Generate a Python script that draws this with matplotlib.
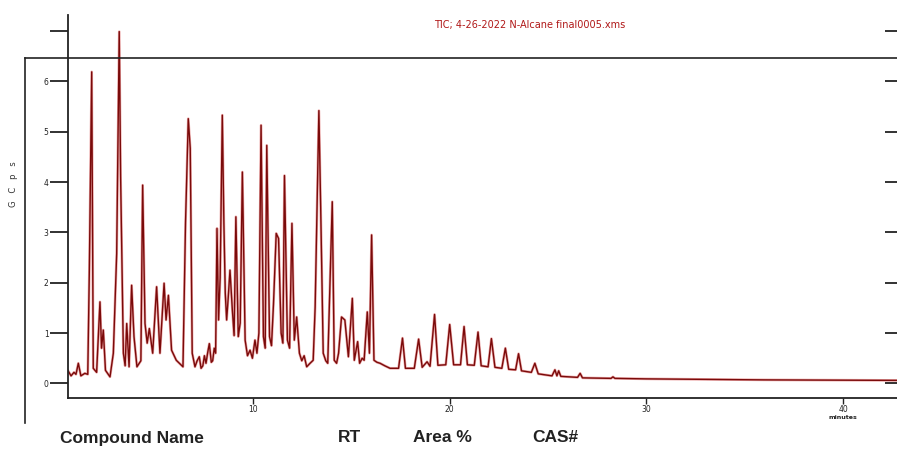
import matplotlib
matplotlib.use("Agg")
import matplotlib.pyplot as plt
from matplotlib.lines import Line2D

# ---- data (retention time in minutes, signal) ----
rt_min = [
    0.60, 0.75, 0.90, 1.00, 1.12, 1.25, 1.45, 1.60, 1.68, 1.80, 1.88, 2.05,
    2.22, 2.30, 2.39, 2.50, 2.73, 2.90, 3.07, 3.20, 3.27, 3.41, 3.50, 3.58,
    3.70, 3.83, 3.95, 4.10, 4.30, 4.39, 4.51, 4.62, 4.73, 4.90, 5.10, 5.27,
    5.48, 5.58, 5.70, 5.86, 6.10, 6.44, 6.57, 6.71, 6.81, 6.91, 7.05, 7.16,
    7.27, 7.36, 7.45, 7.53, 7.61, 7.70, 7.78, 7.88, 7.95, 8.03, 8.10, 8.17,
    8.25, 8.33, 8.44, 8.52, 8.59, 8.66, 8.74, 8.83, 8.95, 9.04, 9.13, 9.25,
    9.35, 9.46, 9.60, 9.72, 9.85, 9.97, 10.10, 10.20, 10.30, 10.41, 10.53,
    10.62, 10.70, 10.84, 10.94, 11.04, 11.18, 11.30, 11.43, 11.52, 11.60,
    11.75, 11.86, 11.98, 12.10, 12.22, 12.36, 12.48, 12.60, 12.73, 12.90,
    13.06, 13.16, 13.35, 13.44, 13.57, 13.70, 13.80, 14.03, 14.13, 14.25,
    14.35, 14.50, 14.67, 14.85, 15.05, 15.15, 15.32, 15.42, 15.55, 15.65,
    15.81, 15.92, 16.03, 16.15, 16.30, 16.46, 16.70, 16.97, 17.40, 17.60,
    17.75, 18.20, 18.42, 18.60, 18.85, 19.00, 19.23, 19.40, 19.80, 20.00,
    20.20, 20.55, 20.73, 20.90, 21.25, 21.44, 21.60, 21.95, 22.12, 22.30,
    22.65, 22.83, 23.00, 23.35, 23.50, 23.65, 24.15, 24.33, 24.50, 25.20,
    25.35, 25.45, 25.54, 25.65, 26.50, 26.63, 26.75, 28.20, 28.30, 28.40,
    30.00, 33.00, 36.00, 40.00, 42.74,
]
signal = [
    0.25, 0.15, 0.22, 0.18, 0.40, 0.15, 0.20, 0.18, 2.25, 6.19, 0.30, 0.22,
    1.62, 0.70, 1.06, 0.26, 0.13, 0.60, 2.58, 6.99, 4.10, 0.60, 0.35, 1.19,
    0.33, 1.95, 0.93, 0.33, 0.45, 3.94, 1.19, 0.80, 1.09, 0.60, 1.92, 0.60,
    1.99, 1.26, 1.75, 0.66, 0.46, 0.33, 3.20, 5.26, 4.67, 0.60, 0.33, 0.45,
    0.53, 0.30, 0.35, 0.55, 0.40, 0.62, 0.79, 0.42, 0.45, 0.70, 0.60, 3.08,
    1.26, 2.10, 5.33, 3.18, 1.80, 1.26, 1.70, 2.25, 1.46, 0.95, 3.31, 0.93,
    1.20, 4.20, 0.86, 0.55, 0.66, 0.50, 0.86, 0.60, 1.00, 5.13, 0.93,
    0.70, 4.73, 0.93, 0.75, 1.56, 2.98, 2.88, 1.00, 0.80, 4.13,
    0.86, 0.70, 3.18, 0.86, 1.32, 0.60, 0.45, 0.55, 0.33, 0.40,
    0.46, 1.52, 5.42, 3.51, 0.60, 0.45, 0.40, 3.61, 0.46, 0.40,
    0.60, 1.32, 1.26, 0.53, 1.69, 0.46, 0.83, 0.40, 0.50, 0.46,
    1.42, 0.60, 2.95, 0.46, 0.42, 0.40, 0.35, 0.30, 0.30, 0.90,
    0.30, 0.30, 0.88, 0.32, 0.43, 0.34, 1.37, 0.36, 0.37, 1.17,
    0.37, 0.37, 1.13, 0.37, 0.36, 1.02, 0.35, 0.33, 0.89, 0.32,
    0.30, 0.70, 0.28, 0.27, 0.59, 0.25, 0.22, 0.40, 0.19, 0.15,
    0.27, 0.15, 0.25, 0.14, 0.12, 0.20, 0.11, 0.10, 0.13, 0.10,
    0.09, 0.08, 0.07, 0.065, 0.06,
]

y_ticks = [0, 1, 2, 3, 4, 5, 6, 7]
y_tick_labels = ["0", "1", "2", "3", "4", "5", "6", ""]
x_ticks = [10, 20, 30, 40]
x_tick_labels = ["10", "20", "30", "40"]
title_text = "TIC; 4-26-2022 N-Alcane final0005.xms"
y_label = "G   C   p   s"
table_headers = ["Compound Name", "RT", "Area %", "CAS#"]

# ---- figure ----
W, H = 897, 450
fig = plt.figure(figsize=(W / 100, H / 100), dpi=100)
fig.patch.set_facecolor("white")

ax = fig.add_axes([68 / W, (H - 398) / H, (W - 68) / W, 383 / H])
ax.set_xlim(0.595, 42.74)
ax.set_ylim(-0.29, 7.32)

ax.plot(rt_min, signal, color="#d85050", lw=1.9, alpha=0.5)
ax.plot(rt_min, signal, color="#7a0a0a", lw=1.0)

for s in ["top", "right"]:
    ax.spines[s].set_visible(False)
for s in ["left", "bottom"]:
    ax.spines[s].set_linewidth(1.3)
    ax.spines[s].set_color("#222222")

ax.set_yticks(y_ticks)
ax.set_yticklabels(y_tick_labels)
ax.tick_params(axis="y", direction="out", length=13, width=1.3, pad=1,
               labelsize=5.5, colors="#222222")
ax.set_xticks(x_ticks)
ax.set_xticklabels(x_tick_labels)
ax.tick_params(axis="x", direction="out", length=4.5, width=1.0, pad=0.5,
               labelsize=5.5, colors="#222222")

ax2 = ax.twinx()
ax2.set_ylim(ax.get_ylim())
ax2.set_yticks(y_ticks)
ax2.set_yticklabels([])
ax2.tick_params(axis="y", direction="in", length=8.6, width=1.3, colors="#222222")
for s in ax2.spines.values():
    s.set_visible(False)

ax.text(40, -0.67, "minutes", fontsize=4.5, ha="center", va="center",
        color="#222222", fontweight="bold")

# box lines
fig.add_artist(Line2D([25 / W, 1.0], [(H - 58) / H] * 2, color="#222222", lw=1.2))
fig.add_artist(Line2D([25 / W] * 2, [(H - 58) / H, (H - 423) / H], color="#222222", lw=1.2))

fig.text(530 / W, (H - 25) / H, title_text, fontsize=7, color="#b01818",
         ha="center", va="center")
fig.text(13 / W, (H - 184) / H, y_label, fontsize=6, rotation=90,
         ha="center", va="center", color="#333333")

hdr_x = [60, 338, 413, 532]
for hx, t in zip(hdr_x, table_headers):
    fig.text(hx / W, (H - 438) / H, t, fontsize=12.5, fontweight="bold",
             family="Liberation Sans", ha="left", va="center", color="#222222")

fig.savefig("out.png", dpi=100, facecolor="white")
